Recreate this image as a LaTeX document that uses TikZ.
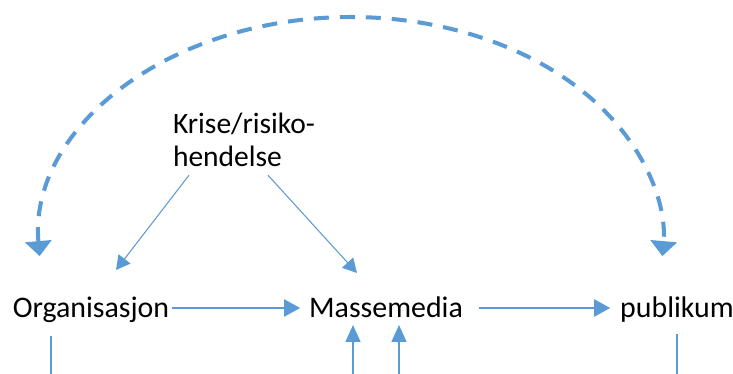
\documentclass[tikz,border=0pt]{standalone}
\usepackage{fontspec}
\setmainfont{Carlito}
\usepackage{tikz}
\usetikzlibrary{arrows.meta, positioning, calc}
\definecolor{officeblue}{HTML}{5B9BD5}

\begin{document}
\begin{tikzpicture}[
    actor/.style={inner sep=0.06cm, outer sep=0pt, text height=0.52cm, text depth=0.12cm,
                  font=\fontsize{17}{19.3}\selectfont},
    eventbox/.style={inner sep=0.06cm, outer sep=0pt, align=left,
                     font=\fontsize{16.8}{19.3}\selectfont},
    thinarrow/.style={-{Triangle[length=0.28cm, width=0.3cm]}, line width=0.6pt, color=officeblue},
    flowarrow/.style={-{Triangle[length=0.32cm, width=0.34cm]}, line width=1.2pt, color=officeblue},
    uparrow/.style={-{Triangle[length=0.34cm, width=0.3cm]}, line width=0.9pt, color=officeblue},
    stub/.style={line width=0.9pt, color=officeblue},
    dasharc/.style={{Triangle[length=0.3cm, width=0.52cm]}-{Triangle[length=0.3cm, width=0.52cm]},
                    line width=2.3pt, dash pattern=on 0.3cm off 0.22cm, color=officeblue}
]
\useasboundingbox (0,0) rectangle (14.66,7.48);

\node[eventbox, anchor=base west] (krise) at (3.4, 4.14) {Krise/risiko-\\hendelse};
\node[actor, anchor=base] (org) at (1.82, 1.12) {Organisasjon};
\node[actor, anchor=base] (media) at (7.72, 1.12) {Massemedia};
\node[actor, anchor=base] (pub) at (13.54, 1.12) {publikum};

\coordinate (arcL) at ($(7.02,2.64)+(183.6:6.24cm and 4.5cm)$);
\coordinate (orgout) at (1.02, 0);
\coordinate (mediaoutA) at (7.06, 0);
\coordinate (mediaoutB) at (7.98, 0);
\coordinate (pubout) at (13.54, 0);

\draw[dasharc] (arcL) arc[start angle=183.6, end angle=-3.6, x radius=6.24cm, y radius=4.5cm];

\draw[thinarrow] ([xshift=0.38cm, yshift=-0.1cm]krise.south west) -- ([xshift=0.5cm, yshift=0.38cm]org.north);
\draw[thinarrow] ([xshift=1.96cm, yshift=-0.1cm]krise.south west) -- ([xshift=-0.58cm, yshift=0.32cm]media.north);

\draw[flowarrow, shorten >=0.12cm] (org.east) -- (media.west);
\draw[flowarrow, shorten <=0.26cm, shorten >=0.14cm] (media.east) -- (pub.west);

\draw[stub] ([yshift=-0.18cm]orgout |- org.south) -- (orgout);
\draw[uparrow] (mediaoutA) -- ([yshift=0.04cm]mediaoutA |- media.south);
\draw[uparrow] (mediaoutB) -- ([yshift=0.04cm]mediaoutB |- media.south);
\draw[stub] ([yshift=-0.14cm]pubout |- pub.south) -- (pubout);
\end{tikzpicture}
\end{document}
